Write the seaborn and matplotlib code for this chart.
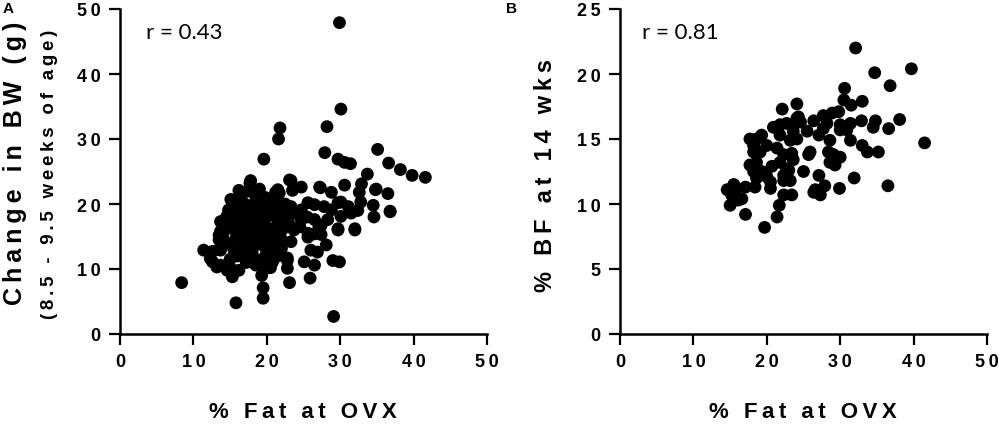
import matplotlib
matplotlib.use('Agg')
import matplotlib.pyplot as plt
import pandas as pd
import seaborn as sns

# Panel A: % fat at OVX vs change in body weight (8.5 - 9.5 weeks)
fat_a = [8.4, 15.8, 19.5, 19.5, 29.1, 23.1, 25.9,
         11.4, 13.7, 12.3, 13.2, 14.6, 15.3, 16.2, 19.3,
         22.8, 22.8, 25.1, 26.5, 26.0, 28.1, 26.9, 29.0, 29.9,
         29.7, 32.0, 34.6, 36.8, 34.5, 36.5, 34.9, 33.7, 32.9, 32.6, 32.8, 32.4,
         30.6, 30.1, 28.8, 27.2, 27.4, 25.6, 26.5,
         23.3, 24.7, 23.5, 21.7, 17.7, 16.2, 18.3, 15.3, 14.8, 13.9, 13.5,
         29.9, 30.1, 28.2, 21.8, 21.6, 19.6, 27.9, 29.7, 30.6, 31.4, 35.1,
         36.6, 38.2, 39.8, 41.6, 17.8,
         36.8, 34.8, 27.3, 32.0, 29.7, 27.1, 25.6,
         12.6, 13.5, 12.6, 13.7, 15.1, 17.1, 18.5, 20.8, 22.8,
         23.1, 23.3, 20.1, 22.2, 15.1, 14.8, 13.7, 13.7, 13.5, 18.5, 21.5, 23.1,
         23.3, 24.7, 25.6, 26.5, 27.8, 28.8, 29.7, 31.1, 31.5, 30.1, 28.3, 26.5,
         24.7, 22.8, 23.7, 27.4,
         15.5, 16.0, 16.5, 16.8, 17.0, 17.5, 17.8, 18.0, 18.3, 18.6, 19.0, 19.2,
         19.5, 19.8, 20.0, 20.3, 20.6, 20.9, 21.2, 21.5, 21.8, 22.0, 22.4, 22.7,
         15.0, 14.5, 16.0, 17.2, 19.0, 20.5, 21.5, 18.5, 16.3, 19.8, 24.0, 24.5,
         25.5, 21.0, 17.0, 18.0, 20.0, 22.0, 15.8, 14.3, 19.0, 20.0, 21.0, 17.5,
         20.5, 19.7,
         14.5, 15.5, 16.5, 17.5, 16.0, 17.0, 18.0, 19.0, 20.0, 21.0, 22.0, 20.5,
         19.5, 18.5, 17.5, 16.5, 15.5, 16.8, 18.8, 20.8, 21.8, 22.5, 21.2, 19.8,
         18.3, 14.0, 15.0, 16.5]
bw_change = [7.9, 4.8, 7.1, 5.5, 2.7, 7.9, 8.6,
             12.9, 12.9, 11.6, 10.3, 9.8, 8.8, 9.8, 9.0,
             11.3, 10.1, 11.1, 10.6, 12.9, 13.7, 12.6, 11.3, 11.1,
             16.0, 16.0, 18.0, 18.8, 19.8, 21.6, 22.3, 24.6, 23.1, 21.8, 20.3, 19.0,
             22.9, 20.3, 21.8, 22.6, 16.7, 14.9, 15.4,
             23.6, 22.6, 22.1, 21.7, 23.2, 22.1, 21.6, 20.3, 18.8, 17.2, 15.2,
             47.9, 34.6, 31.9, 31.7, 30.0, 26.9, 27.9, 26.9, 26.4, 26.2, 28.4,
             26.3, 25.3, 24.4, 24.1, 23.6,
             18.9, 22.2, 22.5, 16.2, 16.2, 16.5, 15.5,
             12.7, 13.0, 11.1, 10.6, 10.1, 11.7, 10.6, 11.1, 11.7,
             16.8, 14.2, 19.6, 19.9, 20.7, 19.1, 17.3, 15.8, 14.5, 21.7, 22.2, 23.7,
             19.6, 19.1, 20.2, 19.9, 19.6, 19.1, 20.2, 19.6, 18.6, 18.1, 17.6, 17.6,
             17.6, 17.6, 16.0, 15.3,
             17.5, 15.5, 13.5, 18.5, 20.0, 16.5, 14.5, 12.5, 18.0, 15.8, 13.8, 19.8,
             17.0, 15.0, 12.8, 18.5, 16.2, 14.2, 20.5, 17.5, 15.5, 13.2, 18.8, 16.5,
             16.3, 14.0, 12.0, 11.0, 11.3, 10.2, 12.0, 20.5, 19.0, 21.0, 18.5, 16.5,
             18.0, 19.0, 17.5, 16.0, 14.0, 14.5, 14.8, 16.8, 22.3, 18.0, 16.0, 13.0,
             11.5, 10.0,
             18.0, 19.5, 21.0, 22.0, 17.0, 15.5, 17.8, 16.5, 15.8, 14.5, 16.0, 20.0,
             18.5, 19.5, 19.0, 16.0, 13.0, 14.0, 14.8, 13.5, 18.0, 20.0, 21.8, 12.0,
             11.5, 15.0, 11.5, 12.5]

# Panel B: % fat at OVX vs % body fat at 14 weeks
fat_b = [32.1, 34.7, 39.7, 36.8, 30.6, 30.5, 31.5, 33.0, 24.1, 22.1, 38.1, 32.9,
         34.8, 34.5, 36.6, 41.5, 35.2, 33.7, 33.0, 36.5, 31.9, 29.9,
         28.9, 29.8, 27.7, 26.4, 30.0, 31.4, 30.9, 30.0, 31.4,
         28.6, 28.4, 29.1, 30.0, 28.6, 29.3, 27.1, 27.7, 28.2, 25.9, 25.7, 27.1,
         27.9, 27.3, 26.4, 25.0, 23.4, 22.3, 21.7, 21.4, 19.7, 17.1,
         24.1, 24.3, 24.6, 23.6, 20.9, 21.8, 22.7, 23.6, 25.5, 24.1, 23.2, 21.8,
         23.4, 23.6, 22.3, 21.4, 21.8, 22.7, 22.3, 23.2, 22.3, 20.7, 20.0, 20.5, 20.5,
         17.7, 18.6, 19.3, 18.2, 20.0, 18.2, 19.1, 17.7, 18.6, 18.2, 19.3, 18.6,
         18.4, 17.1, 15.9, 14.6, 15.5, 15.0, 16.1, 15.2, 16.6, 23.0, 26.6]
bf_14wk = [22.0, 20.1, 20.4, 19.1, 18.9, 18.0, 17.6, 17.9, 17.7, 17.3, 16.5, 16.4,
           16.4, 15.9, 15.8, 14.7, 14.0, 14.0, 14.5, 11.4, 12.0, 11.2,
           17.0, 17.1, 16.8, 16.4, 16.1, 16.2, 15.7, 15.7, 14.9,
           14.9, 14.0, 13.8, 13.6, 13.2, 13.0, 15.3, 15.8, 16.2, 14.0, 13.8, 12.2,
           11.4, 10.7, 10.9, 12.5, 10.7, 10.7, 9.9, 9.0, 8.2, 9.2,
           16.6, 16.7, 16.3, 16.1, 15.9, 16.1, 16.2, 15.6, 15.6, 15.0, 14.9, 15.3,
           13.9, 13.4, 13.8, 14.3, 13.2, 12.7, 12.2, 11.8, 11.8, 12.9, 12.1, 11.7, 11.2,
           15.0, 15.0, 15.3, 14.5, 14.5, 14.0, 14.0, 13.0, 13.2, 12.5, 12.5, 12.0,
           11.3, 11.3, 11.2, 11.1, 11.5, 9.9, 10.3, 10.7, 10.4, 12.6, 11.1]

x_ticks = [0, 10, 20, 30, 40, 50]
y_ticks_a = [0, 10, 20, 30, 40, 50]
y_ticks_b = [0, 5, 10, 15, 20, 25]

df_a = pd.DataFrame({'fat': fat_a, 'bw': bw_change})
df_b = pd.DataFrame({'fat': fat_b, 'bf': bf_14wk})

sns.set_style('ticks')
plt.rcParams['font.family'] = ['Liberation Sans', 'DejaVu Sans']
plt.rcParams['text.color'] = 'black'
plt.rcParams['xtick.color'] = 'black'
plt.rcParams['ytick.color'] = 'black'
plt.rcParams['axes.edgecolor'] = 'black'

TS = '\u2009'


def spaced(s):
    return TS.join(s)


fig = plt.figure(figsize=(9.99, 4.27), dpi=100)
ax_a = fig.add_axes([120 / 999, 92 / 427, 367 / 999, 325 / 427])
ax_b = fig.add_axes([620 / 999, 92 / 427, 367 / 999, 325 / 427])

sns.scatterplot(data=df_a, x='fat', y='bw', ax=ax_a, s=85, color='black',
                edgecolor='none', linewidth=0)
sns.scatterplot(data=df_b, x='fat', y='bf', ax=ax_b, s=85, color='black',
                edgecolor='none', linewidth=0)

for ax, yt in [(ax_a, y_ticks_a), (ax_b, y_ticks_b)]:
    ax.set_xlim(0, 50)
    ax.set_ylim(0, yt[-1])
    ax.set_xticks(x_ticks)
    ax.set_yticks(yt)
    ax.set_xticklabels([spaced(str(t)) for t in x_ticks], fontweight='bold', fontsize=13)
    ax.set_yticklabels([spaced(str(t)) for t in yt], fontweight='bold', fontsize=13)
    ax.set_xlabel('')
    ax.set_ylabel('')
    for side in ['top', 'right']:
        ax.spines[side].set_visible(False)
    for side in ['left', 'bottom']:
        ax.spines[side].set_linewidth(1.8)
    ax.tick_params(width=1.6, length=8, pad=6, color='black', labelcolor='black')
    ax.patch.set_alpha(0)
    for coll in ax.collections:
        coll.set_clip_on(False)

ax_a.text(0.07, 0.93, 'r = 0.43', transform=ax_a.transAxes, fontsize=16,
          family='Lato', va='center', ha='left')
ax_b.text(0.06, 0.93, 'r = 0.81', transform=ax_b.transAxes, fontsize=16,
          family='Lato', va='center', ha='left')

# axis titles
fig.text(303 / 999, 1 - 413 / 427, spaced('% Fat at OVX'), ha='center', va='center',
         fontsize=16, fontweight='bold')
fig.text(803 / 999, 1 - 413 / 427, spaced('% Fat at OVX'), ha='center', va='center',
         fontsize=16, fontweight='bold')
fig.text(15 / 999, 1 - 163 / 427, spaced('Change in BW (g)'), ha='center', va='center',
         rotation=90, fontsize=18, fontweight='bold')
fig.text(50 / 999, 1 - 174 / 427, spaced('(8.5 - 9.5 weeks of age)'), ha='center',
         va='center', rotation=90, fontsize=13.5, fontweight='bold')
fig.text(546 / 999, 1 - 175 / 427, spaced('% BF at 14 wks'), ha='center', va='center',
         rotation=90, fontsize=17, fontweight='bold')

# panel letters
fig.text(3 / 999, 1 - 9 / 427, 'A', ha='left', va='center', fontsize=11, fontweight='bold')
fig.text(506 / 999, 1 - 9 / 427, 'B', ha='left', va='center', fontsize=11, fontweight='bold')

fig.savefig('out.png', dpi=100)
